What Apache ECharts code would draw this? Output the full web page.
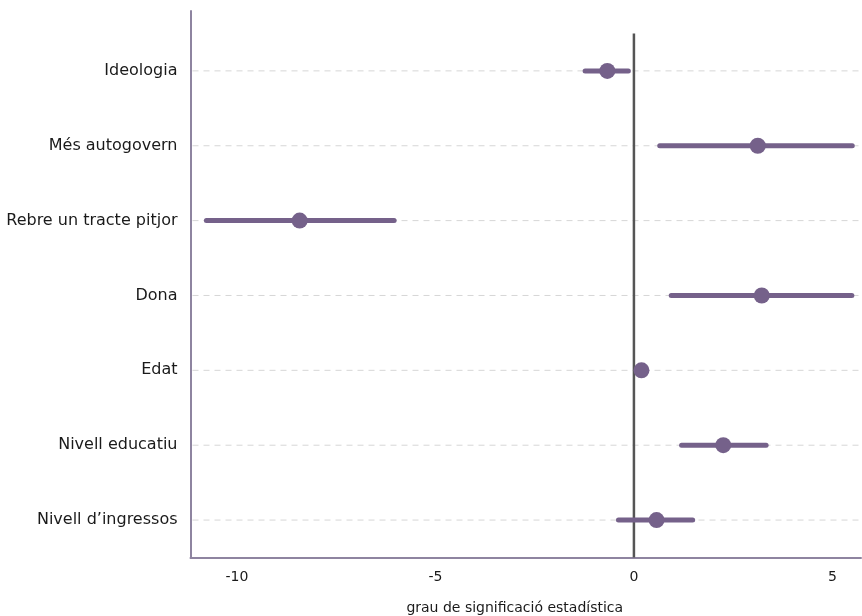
<!DOCTYPE html>
<html>
<head>
<meta charset="utf-8">
<script src="https://cdn.jsdelivr.net/npm/echarts@6/dist/echarts.min.js"></script>
<style>
html,body{margin:0;padding:0;background:#fff;}
#chart{width:862px;height:616px;}
</style>
</head>
<body>
<div id="chart"></div>
<script>
// Categories, top to bottom
var categories = ["Ideologia", "Més autogovern", "Rebre un tracte pitjor", "Dona", "Edat", "Nivell educatiu", "Nivell d’ingressos"];
var estimates = [-0.67, 3.12, -8.42, 3.22, 0.19, 2.25, 0.57];
var lower = [-1.23, 0.65, -10.77, 0.94, 0.19, 1.20, -0.39];
var upper = [-0.14, 5.50, -6.04, 5.49, 0.19, 3.33, 1.48];
var xTicks = [-10, -5, 0, 5];

var n = categories.length;
var pointData = [], ciData = [], gridData = [];
for (var i = 0; i < n; i++) {
  var y = n - i;
  pointData.push([estimates[i], y]);
  ciData.push([lower[i], upper[i], y]);
  gridData.push([y]);
}

var color = '#75618a';
var fontFam = '"DejaVu Sans", sans-serif';
var chart = echarts.init(document.getElementById('chart'));
chart.setOption({
  animation: false,
  grid: {left: 190.5, right: 1, top: 11, bottom: 58.5, containLabel: false, outerBoundsMode: 'none'},
  xAxis: {
    type: 'value', min: -11.17, max: 5.72, splitNumber: 3,
    axisLine: {show: true, onZero: false, lineStyle: {color: '#8e84a0', width: 2}},
    axisTick: {show: false},
    splitLine: {show: false},
    axisLabel: {
      color: '#1a1a1a', fontSize: 14, fontFamily: fontFam, margin: 13,
      showMinLabel: false, showMaxLabel: false,
      formatter: function (v) { return xTicks.indexOf(v) >= 0 ? String(v) : ''; }
    },
    name: 'grau de significació estadística', nameLocation: 'middle', nameGap: 44,
    nameTextStyle: {color: '#1a1a1a', fontSize: 14, fontFamily: fontFam, padding: [0, 22, 0, 0]}
  },
  yAxis: {
    type: 'value', min: 0.5, max: 7.8, interval: 0.5,
    axisLine: {show: true, onZero: false, lineStyle: {color: '#8e84a0', width: 2}},
    axisTick: {show: false},
    splitLine: {show: false},
    axisLabel: {
      color: '#1a1a1a', fontSize: 16, fontFamily: fontFam, margin: 13,
      showMaxLabel: false,
      formatter: function (v) {
        if (Math.abs(v - Math.round(v)) > 1e-6) return '';
        var idx = n - Math.round(v);
        return (idx >= 0 && idx < n) ? categories[idx] : '';
      }
    }
  },
  series: [
    {
      type: 'custom', data: gridData, z: 1, silent: true,
      renderItem: function (params, api) {
        var cs = params.coordSys;
        var p = api.coord([0, api.value(0)]);
        return {
          type: 'line',
          shape: {x1: cs.x + 2, y1: p[1], x2: cs.x + cs.width, y2: p[1]},
          style: {stroke: '#d6d6d6', lineWidth: 1, lineDash: [6, 5]}
        };
      },
      encode: {y: 0}
    },
    {
      type: 'line', data: [[0, 0.5], [0, 7.5]], showSymbol: false, silent: true,
      lineStyle: {color: '#555555', width: 2.5}, z: 3
    },
    {
      type: 'custom', data: ciData, z: 4,
      renderItem: function (params, api) {
        var p1 = api.coord([api.value(0), api.value(2)]);
        var p2 = api.coord([api.value(1), api.value(2)]);
        return {
          type: 'line',
          shape: {x1: p1[0], y1: p1[1], x2: p2[0], y2: p2[1]},
          style: {stroke: color, lineWidth: 5, lineCap: 'round', fill: null}
        };
      },
      encode: {x: [0, 1], y: 2}
    },
    {
      type: 'scatter', data: pointData, symbolSize: 16, z: 5,
      itemStyle: {color: color, opacity: 1}
    }
  ]
});
</script>
</body>
</html>
